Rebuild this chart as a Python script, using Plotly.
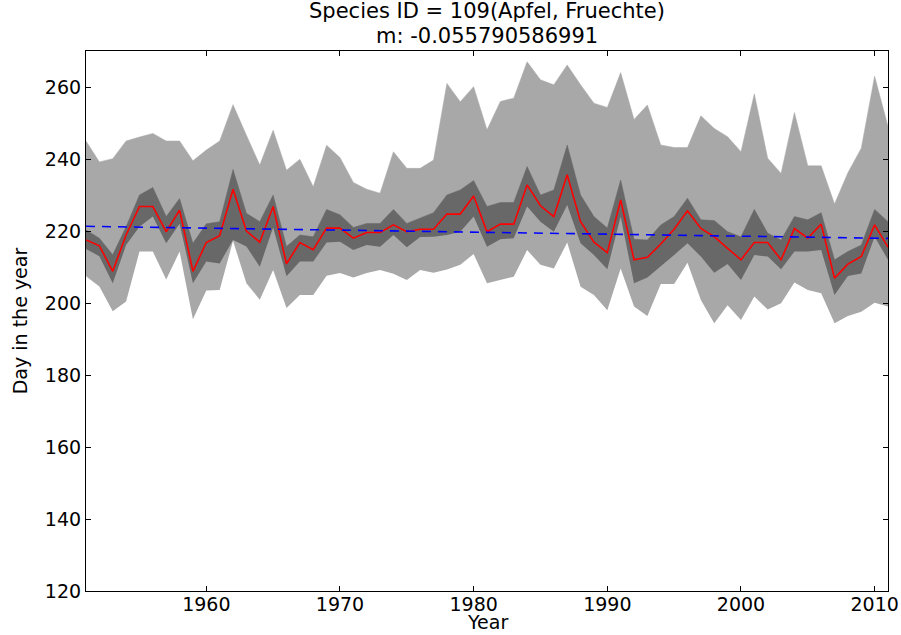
import numpy as np
import plotly.graph_objects as go

years = list(range(1951, 2012))

mean_day = [217.5, 215.9, 208.8, 218.9, 226.8, 226.8, 219.8, 225.8, 208.8, 216.8,
            218.7, 231.6, 220.0, 216.9, 226.8, 210.9, 216.8, 214.8, 220.8, 220.8,
            218.0, 219.6, 219.6, 221.7, 219.8, 220.5, 220.5, 224.7, 224.7, 229.7,
            219.8, 221.9, 221.9, 232.8, 227.0, 224.0, 235.6, 222.6, 216.9, 214.0,
            228.6, 212.0, 212.7, 216.4, 220.5, 225.6, 220.7, 218.4, 215.2, 212.0,
            216.8, 216.8, 212.0, 220.7, 218.0, 221.9, 206.9, 210.8, 212.9, 221.7,
            215.5]

inner_upper = [220.3, 218.0, 213.4, 221.2, 230.0, 232.1, 224.0, 229.0, 216.6, 222.0,
               222.6, 237.1, 224.9, 222.6, 230.0, 215.7, 218.9, 218.4, 226.0, 224.5,
               221.0, 222.1, 222.1, 226.0, 222.1, 223.5, 225.1, 230.0, 231.4, 234.0,
               226.8, 227.9, 227.9, 237.9, 230.0, 231.4, 243.9, 230.0, 224.0, 220.8,
               234.2, 217.7, 217.5, 221.7, 224.0, 229.1, 223.1, 222.9, 219.8, 218.4,
               226.0, 219.4, 217.5, 224.0, 223.1, 225.1, 212.0, 214.3, 216.1, 226.0,
               222.6]

inner_lower = [215.0, 213.0, 205.5, 216.1, 221.2, 224.0, 216.6, 222.0, 205.5, 211.5,
               211.0, 217.5, 215.7, 210.1, 221.0, 207.4, 211.5, 211.5, 216.8, 217.0,
               214.7, 216.1, 215.6, 218.9, 215.5, 218.3, 218.4, 218.9, 219.8, 224.0,
               215.6, 217.7, 218.0, 226.8, 222.6, 219.8, 227.2, 216.6, 213.3, 209.4,
               224.0, 205.5, 207.1, 210.1, 213.3, 216.6, 212.9, 208.4, 210.8, 206.4,
               213.3, 212.9, 209.4, 214.3, 214.3, 214.7, 202.2, 207.5, 208.2, 218.4,
               212.0]

outer_upper = [245.0, 239.2, 240.1, 245.0, 246.1, 247.1, 245.0, 245.0, 239.5, 242.5,
               245.0, 255.1, 246.6, 238.3, 248.0, 236.9, 239.9, 232.3, 243.8, 240.4,
               233.5, 231.6, 230.5, 242.0, 237.4, 237.4, 239.7, 261.0, 255.9, 260.1,
               248.1, 256.0, 256.9, 267.0, 262.0, 260.6, 266.1, 260.6, 255.5, 254.3,
               264.0, 251.0, 255.0, 243.9, 243.2, 243.2, 252.0, 248.5, 246.2, 242.0,
               258.1, 240.2, 236.0, 252.9, 238.1, 238.1, 227.5, 236.2, 243.0, 263.0,
               249.0]

outer_lower = [207.4, 204.6, 197.7, 200.4, 214.3, 214.3, 206.5, 214.3, 195.5, 203.5,
               203.6, 217.3, 205.5, 200.9, 209.2, 198.6, 202.2, 202.2, 207.6, 208.3,
               207.1, 208.3, 209.2, 208.1, 206.4, 209.2, 208.4, 209.3, 210.6, 213.6,
               205.5, 206.4, 207.3, 214.7, 210.6, 209.6, 216.8, 204.5, 202.2, 198.0,
               209.6, 199.0, 196.4, 205.3, 205.3, 211.2, 200.8, 194.4, 199.4, 195.3,
               201.8, 198.2, 199.9, 205.7, 203.6, 202.7, 194.4, 196.4, 197.6, 200.1,
               199.0]

slope = -0.055790586991
start_value = 221.3

title_lines = ["Species ID = 109(Apfel, Fruechte)", "m: -0.055790586991"]
x_label = "Year"
y_label = "Day in the year"
x_ticks = [1960, 1970, 1980, 1990, 2000, 2010]
y_ticks = [120, 140, 160, 180, 200, 220, 240, 260]

yr = np.array(years)
trend = start_value + slope * (yr - yr[0])

light = "#a8a8a8"
dark = "#686868"

fig = go.Figure()
fig.add_trace(go.Scatter(x=years, y=outer_lower, mode="lines",
                         line=dict(width=0, color=light), hoverinfo="skip"))
fig.add_trace(go.Scatter(x=years, y=outer_upper, mode="lines", fill="tonexty",
                         fillcolor=light, line=dict(width=0.5, color=light)))
fig.add_trace(go.Scatter(x=years, y=inner_lower, mode="lines",
                         line=dict(width=0, color=dark), hoverinfo="skip"))
fig.add_trace(go.Scatter(x=years, y=inner_upper, mode="lines", fill="tonexty",
                         fillcolor=dark, line=dict(width=0.5, color=dark)))
fig.add_trace(go.Scatter(x=years, y=mean_day, mode="lines",
                         line=dict(width=1.6, color="#ff0000")))
fig.add_trace(go.Scatter(x=years, y=trend, mode="lines",
                         line=dict(width=1.6, color="#0000ff", dash="9px,7px")))

font = dict(family="DejaVu Sans", size=19, color="black")
axis_common = dict(showline=True, linecolor="black", linewidth=1.2, mirror="ticks",
                   ticks="inside", ticklen=5, tickcolor="black", showgrid=False,
                   zeroline=False, tickfont=font, automargin=False)

# two-line title centred over the axes
for i, line in enumerate(title_lines):
    fig.add_annotation(text=line, xref="paper", yref="paper", x=0.5, y=1.0,
                       xanchor="center", yanchor="bottom", showarrow=False,
                       yshift=(len(title_lines) - 1 - i) * 25 + 1,
                       font=dict(family="DejaVu Sans", size=21, color="black"))

# x-axis label placed below the tick labels
fig.add_annotation(text=x_label, xref="paper", yref="paper", x=0.5, y=0.0,
                   xanchor="center", yanchor="middle", showarrow=False,
                   yshift=-31, borderpad=0, font=font)

fig.update_layout(
    width=901, height=635,
    margin=dict(l=86, r=13, t=51, b=44),
    paper_bgcolor="white", plot_bgcolor="white",
    showlegend=False,
    font=font,
    xaxis=dict(range=[1951, 2011], tickvals=x_ticks, ticklabelstandoff=-4,
               **axis_common),
    yaxis=dict(range=[120, 270], tickvals=y_ticks,
               title=dict(text=y_label, standoff=12, font=font), **axis_common),
)

fig.write_html("out.html")
